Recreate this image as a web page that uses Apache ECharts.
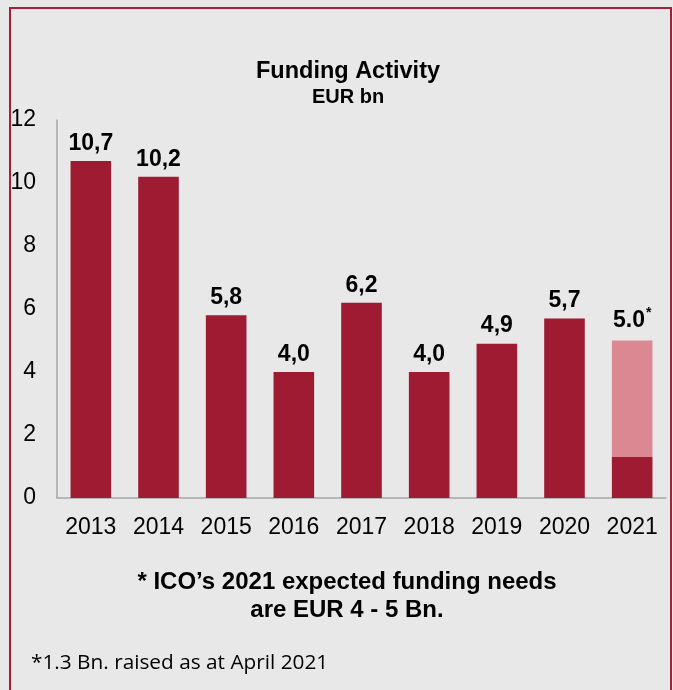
<!DOCTYPE html>
<html>
<head>
<meta charset="utf-8">
<script src="https://cdn.jsdelivr.net/npm/echarts@6/dist/echarts.min.js"></script>
<style>
  html, body { margin: 0; padding: 0; background: #e8e8e8; }
  #chart { width: 673px; height: 690px; }
</style>
</head>
<body>
<div id="chart"></div>
<script>
var years = ['2013', '2014', '2015', '2016', '2017', '2018', '2019', '2020', '2021']
// funded amount per year (2021: raised so far)
var funding = [10.7, 10.2, 5.8, 4.0, 6.2, 4.0, 4.9, 5.7, 1.3]
// remaining expected for 2021
var expected = ['-', '-', '-', '-', '-', '-', '-', '-', 3.7]
var yTicks = [0, 2, 4, 6, 8, 10, 12]

var darkRed = '#9e1b32'
var lightRed = '#db8893'
var font = 'Liberation Sans, Arial, sans-serif'

var chart = echarts.init(document.getElementById('chart'), null, { renderer: 'canvas' })

var option = {
  backgroundColor: '#e8e8e8',
  animation: false,
  textStyle: { fontFamily: font },
  grid: {
    left: 57,
    right: 7,
    top: 120,
    bottom: 192
  },
  xAxis: {
    type: 'category',
    data: years,
    axisTick: { show: false },
    axisLine: { lineStyle: { color: '#a6a6a6', width: 1.5 } },
    axisLabel: {
      color: '#000',
      fontSize: 23,
      fontFamily: font,
      margin: 18
    }
  },
  yAxis: {
    type: 'value',
    min: yTicks[0],
    max: yTicks[yTicks.length - 1],
    interval: 2,
    splitLine: { show: false },
    axisTick: { show: false },
    axisLine: { show: true, lineStyle: { color: '#a6a6a6', width: 1.5 } },
    axisLabel: {
      color: '#000',
      fontSize: 23,
      fontFamily: font,
      margin: 21
    }
  },
  series: [
    {
      name: 'Funding',
      type: 'bar',
      stack: 'total',
      barWidth: '60%',
      data: funding,
      itemStyle: { color: darkRed },
      label: {
        show: true,
        position: 'top',
        distance: 6,
        color: '#000',
        fontSize: 23,
        fontWeight: 'bold',
        fontFamily: font,
        formatter: function (p) {
          if (p.dataIndex === years.length - 1) return ''
          return p.value.toFixed(1).replace('.', ',')
        }
      }
    },
    {
      name: 'Expected',
      type: 'bar',
      stack: 'total',
      barWidth: '60%',
      data: expected,
      itemStyle: { color: lightRed },
      label: {
        show: true,
        position: 'top',
        distance: 6,
        formatter: function (p) {
          var total = funding[p.dataIndex] + p.value
          return '{v|' + total.toFixed(1) + '}{s|*}'
        },
        rich: {
          v: { fontSize: 23, fontWeight: 'bold', color: '#000', fontFamily: font },
          s: { fontSize: 14, fontWeight: 'bold', color: '#000', fontFamily: font, verticalAlign: 'bottom', padding: [0, 0, 14, 1] }
        }
      }
    }
  ],
  graphic: [
    {
      type: 'rect',
      silent: true,
      shape: { x: 10, y: 8, width: 661, height: 700 },
      style: { fill: 'none', stroke: '#a51e3c', lineWidth: 2 }
    },
    {
      type: 'text',
      x: 348, y: 72,
      style: {
        text: 'Funding Activity',
        font: 'bold 23.5px ' + font,
        fill: '#000',
        textAlign: 'center',
        textVerticalAlign: 'middle'
      }
    },
    {
      type: 'text',
      x: 348, y: 97,
      style: {
        text: 'EUR bn',
        font: 'bold 20px ' + font,
        fill: '#000',
        textAlign: 'center',
        textVerticalAlign: 'middle'
      }
    },
    {
      type: 'text',
      x: 347, y: 582,
      style: {
        text: '* ICO’s 2021 expected funding needs',
        font: 'bold 24px ' + font,
        fill: '#000',
        textAlign: 'center',
        textVerticalAlign: 'middle'
      }
    },
    {
      type: 'text',
      x: 347, y: 610,
      style: {
        text: 'are EUR 4 - 5 Bn.',
        font: 'bold 24px ' + font,
        fill: '#000',
        textAlign: 'center',
        textVerticalAlign: 'middle'
      }
    },
    {
      type: 'text',
      x: 31, y: 663,
      style: {
        text: '*1.3 Bn. raised as at April 2021',
        font: '20.8px Open Sans, sans-serif',
        fill: '#000',
        textAlign: 'left',
        textVerticalAlign: 'middle'
      }
    }
  ]
}

chart.setOption(option)
</script>
</body>
</html>
